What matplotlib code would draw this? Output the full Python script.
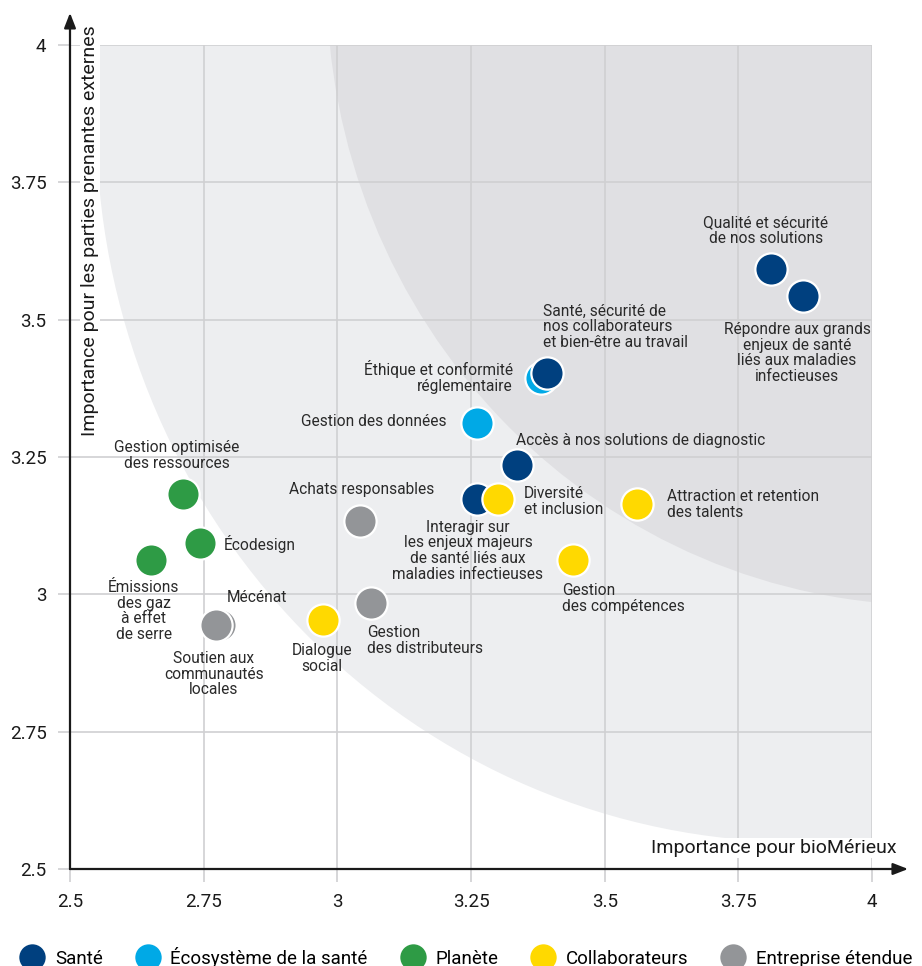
import matplotlib
matplotlib.use('Agg')
import matplotlib.pyplot as plt
from matplotlib.lines import Line2D
from matplotlib.patches import Circle

plt.rcParams['font.family'] = ['Roboto', 'DejaVu Sans']

CATEGORIES = ['Santé', 'Écosystème de la santé', 'Planète', 'Collaborateurs', 'Entreprise étendue']
COLORS = {
    'Santé': '#00407f',
    'Écosystème de la santé': '#00a9e6',
    'Planète': '#2e9b45',
    'Collaborateurs': '#ffd900',
    'Entreprise étendue': '#939598',
}

# drawn in this order (later points sit on top)
labels = [
    'Qualité et sécurité\nde nos solutions',
    'Répondre aux grands\nenjeux de santé\nliés aux maladies\ninfectieuses',
    'Éthique et conformité\nréglementaire',
    'Santé, sécurité de\nnos collaborateurs\net bien-être au travail',
    'Gestion des données',
    'Accès à nos solutions de diagnostic',
    'Interagir sur\nles enjeux majeurs\nde santé liés aux\nmaladies infectieuses',
    'Diversité\net inclusion',
    'Attraction et retention\ndes talents',
    'Gestion\ndes compétences',
    'Achats responsables',
    'Gestion\ndes distributeurs',
    'Dialogue\nsocial',
    'Mécénat',
    'Soutien aux\ncommunautés\nlocales',
    'Gestion optimisée\ndes ressources',
    'Écodesign',
    'Émissions\ndes gaz\nà effet\nde serre',
]
category = [
    'Santé', 'Santé', 'Écosystème de la santé', 'Santé', 'Écosystème de la santé',
    'Santé', 'Santé', 'Collaborateurs', 'Collaborateurs', 'Collaborateurs',
    'Entreprise étendue', 'Entreprise étendue', 'Collaborateurs', 'Entreprise étendue',
    'Entreprise étendue', 'Planète', 'Planète', 'Planète',
]
x_biomerieux = [3.811, 3.871, 3.381, 3.392, 3.261, 3.336, 3.261, 3.300, 3.560, 3.441,
                3.042, 3.063, 2.973, 2.781, 2.773, 2.711, 2.743, 2.651]
y_externes = [3.592, 3.543, 3.394, 3.403, 3.312, 3.235, 3.174, 3.174, 3.164, 3.062,
              3.133, 2.984, 2.953, 2.944, 2.944, 3.183, 3.093, 3.0625]

ticks = [2.5, 2.75, 3, 3.25, 3.5, 3.75, 4]
tick_labels = ['2.5', '2.75', '3', '3.25', '3.5', '3.75', '4']

# label placement: (dx, dy) in pixels, ha, va
label_pos = [
    (-5, 23, 'center', 'bottom'),
    (-6, -26, 'center', 'top'),
    (-28, 1, 'right', 'center'),
    (-4, 23, 'left', 'bottom'),
    (-30, 1, 'right', 'center'),
    (-1, 25, 'left', 'center'),
    (-9, -21, 'center', 'top'),
    (26, -3, 'left', 'center'),
    (30, 0, 'left', 'center'),
    (-11, -23, 'left', 'top'),
    (2, 32, 'center', 'center'),
    (-4, -22, 'left', 'top'),
    (-1, -23, 'center', 'top'),
    (7, 28, 'left', 'center'),
    (-2, -26, 'center', 'top'),
    (-6, 23, 'center', 'bottom'),
    (24, -1, 'left', 'center'),
    (-7, -20, 'center', 'top'),
]

fig = plt.figure(figsize=(9.22, 9.66), dpi=100)
ax = fig.add_axes([70 / 922, 1 - 869 / 966, 802 / 922, 824 / 966])
ax.set_xlim(2.5, 4)
ax.set_ylim(2.5, 4)

# background zones
ax.add_patch(Circle((3.865, 3.865), 1.316, facecolor='#edeef0', edgecolor='none', zorder=0))
ax.add_patch(Circle((4.116, 4.116), 1.136, facecolor='#e0e0e3', edgecolor='none', zorder=0.5))

for t in ticks:
    ax.axvline(t, color='#d0d0d2', lw=1.2, zorder=1)
    ax.axhline(t, color='#d0d0d2', lw=1.2, zorder=1)

for s in ax.spines.values():
    s.set_visible(False)
ax.set_xticks(ticks)
ax.set_xticklabels(tick_labels)
ax.set_yticks(ticks)
ax.set_yticklabels(tick_labels)
ax.tick_params(length=9, width=1.2, color='#d0d0d2', labelsize=13.5, labelcolor='#1a1a1a', pad=8)

# axis arrows
arrow = dict(arrowstyle='-|>,head_length=0.9,head_width=0.35', color='#1a1a1a', lw=1.6, shrinkA=0, shrinkB=0)
ax.annotate('', xy=(0, 1.039), xytext=(0, 0), xycoords='axes fraction', arrowprops=arrow, annotation_clip=False, zorder=5)
ax.annotate('', xy=(1.045, 0), xytext=(0, 0), xycoords='axes fraction', arrowprops=arrow, annotation_clip=False, zorder=5)

for i, lab in enumerate(labels):
    ax.scatter(x_biomerieux[i], y_externes[i], s=540, color=COLORS[category[i]],
               edgecolors='white', linewidths=1.6, zorder=10 + i, clip_on=False)
    dx, dy, ha, va = label_pos[i]
    ax.annotate(lab, (x_biomerieux[i], y_externes[i]), xytext=(dx, dy), textcoords='offset pixels',
                ha=ha, va=va, fontsize=11.2, linespacing=1.05, color='#2a2a2a', zorder=40)

ax.text(0.025, 1.024, 'Importance pour les parties prenantes externes', transform=ax.transAxes,
        rotation=90, ha='center', va='top', fontsize=14, color='#1a1a1a', zorder=30,
        bbox=dict(facecolor='white', edgecolor='none', pad=1))
ax.text(1.03, 0.0255, 'Importance pour bioMérieux', transform=ax.transAxes,
        ha='right', va='center', fontsize=14, color='#1a1a1a', zorder=30,
        bbox=dict(facecolor='white', edgecolor='none', pad=1))

handles = [Line2D([], [], marker='o', linestyle='none', markersize=19,
                  markerfacecolor=COLORS[c], markeredgecolor='none') for c in CATEGORIES]
fig.legend(handles, CATEGORIES, loc='center', bbox_to_anchor=(0.506, 1 - 957 / 966), ncol=5,
           frameon=False, fontsize=13.5, handlelength=1.2, handletextpad=0.6, columnspacing=1.8,
           borderaxespad=0, borderpad=0)

fig.savefig('out.png', dpi=100)
